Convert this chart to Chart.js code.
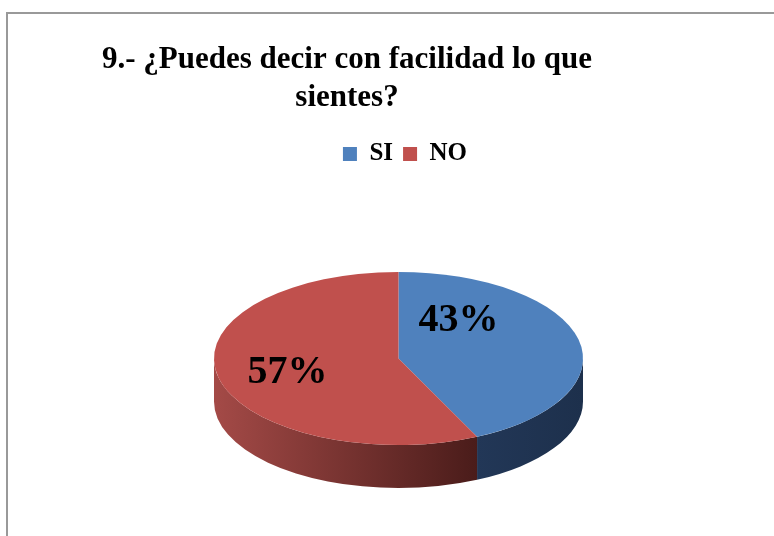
<!DOCTYPE html>
<html>
<head>
<meta charset="utf-8">
<script src="https://cdn.jsdelivr.net/npm/chart.js@4.4.0/dist/chart.umd.min.js"></script>
<style>
  html, body { margin: 0; padding: 0; background: #fff; }
  #wrap { position: relative; width: 774px; height: 536px; }
</style>
</head>
<body>
<div id="wrap"><canvas id="chart" width="774" height="536"></canvas></div>
<script>
const titleLines = ['9.- ¿Puedes decir con facilidad lo que', 'sientes?']
const categories = ['SI', 'NO']
const percentages = [43, 57]

const topColors = ['#4F81BD', '#C0504D']
// rim colours, left -> right
const sideColors = [['#223757', '#1d304c'], ['#a44a47', '#4a1c1a']]
const serif = "'Liberation Serif', 'Times New Roman', serif"

// grey frame around the chart
const frame = {
  id: 'frame',
  beforeDraw(chart) {
    const ctx = chart.ctx
    ctx.save()
    ctx.strokeStyle = '#999'
    ctx.lineWidth = 2
    ctx.strokeRect(7, 13, 900, 700)
    ctx.restore()
  }
}

// legend sits a bit right of the title
const legendShift = {
  id: 'legendShift',
  afterLayout(chart, args, opts) {
    chart.legend.left += opts.dx
    chart.legend.right += opts.dx
  }
}

// tilted pie: rim drawn first, then the flat pie squashed onto the top face
const pie3d = {
  id: 'pie3d',
  beforeDatasetsDraw(chart, args, opts) {
    const ctx = chart.ctx
    const arcs = chart.getDatasetMeta(0).data
    const { cx, cy, tilt, depth } = opts

    ctx.save()
    arcs.forEach((arc, i) => {
      const rx = arc.outerRadius
      const ry = rx * tilt
      // only the front half of the rim can be seen
      for (const base of [0, 2 * Math.PI]) {
        const a0 = Math.max(arc.startAngle, base)
        const a1 = Math.min(arc.endAngle, base + Math.PI)
        if (a1 <= a0) continue
        const x0 = cx + rx * Math.cos(a0)
        const x1 = cx + rx * Math.cos(a1)
        const g = ctx.createLinearGradient(Math.min(x0, x1), 0, Math.max(x0, x1), 0)
        g.addColorStop(0, sideColors[i][0])
        g.addColorStop(1, sideColors[i][1])
        ctx.beginPath()
        ctx.ellipse(cx, cy, rx, ry, 0, a0, a1)
        ctx.ellipse(cx, cy + depth, rx, ry, 0, a1, a0, true)
        ctx.closePath()
        ctx.fillStyle = g
        ctx.fill()
      }
    })
    ctx.restore()

    const { x, y } = arcs[0]
    ctx.save()
    ctx.translate(cx, cy)
    ctx.scale(1, tilt)
    ctx.translate(-x, -y)
  },
  afterDatasetsDraw(chart, args, opts) {
    const ctx = chart.ctx
    ctx.restore()

    const arcs = chart.getDatasetMeta(0).data
    const values = chart.data.datasets[0].data
    const { cx, cy, tilt } = opts
    ctx.save()
    ctx.font = 'bold 40px ' + serif
    ctx.fillStyle = '#000'
    ctx.textAlign = 'center'
    ctx.textBaseline = 'middle'
    arcs.forEach((arc, i) => {
      const mid = (arc.startAngle + arc.endAngle) / 2
      const r = arc.outerRadius * opts.labelRadius
      const [nx, ny] = opts.labelNudge[i]
      ctx.fillText(values[i] + '%', cx + Math.cos(mid) * r + nx, cy + Math.sin(mid) * r * tilt + ny)
    })
    ctx.restore()
  }
}

new Chart(document.getElementById('chart'), {
  type: 'pie',
  data: {
    labels: categories,
    datasets: [{
      data: percentages,
      backgroundColor: topColors,
      borderWidth: 0,
      radius: 184.5,
      clip: false
    }]
  },
  options: {
    responsive: false,
    animation: false,
    events: [],
    layout: { padding: { top: 12, left: 6, right: 86, bottom: 0 } },
    plugins: {
      title: {
        display: true,
        text: titleLines,
        color: '#000',
        font: { family: serif, size: 31, weight: 'bold', lineHeight: 1.226 },
        padding: { top: 29, bottom: 14.5 }
      },
      legend: {
        display: true,
        position: 'top',
        labels: {
          color: '#000',
          boxWidth: 14,
          boxHeight: 14,
          padding: 10,
          font: { family: serif, size: 25, weight: 'bold' }
        }
      },
      tooltip: { enabled: false },
      legendShift: { dx: 58 },
      pie3d: {
        cx: 398.5,
        cy: 358.5,
        tilt: 0.469,
        depth: 43,
        labelRadius: 0.6,
        labelNudge: [[-48, -27], [-3, 3]]
      }
    }
  },
  plugins: [frame, legendShift, pie3d]
})
</script>
</body>
</html>
